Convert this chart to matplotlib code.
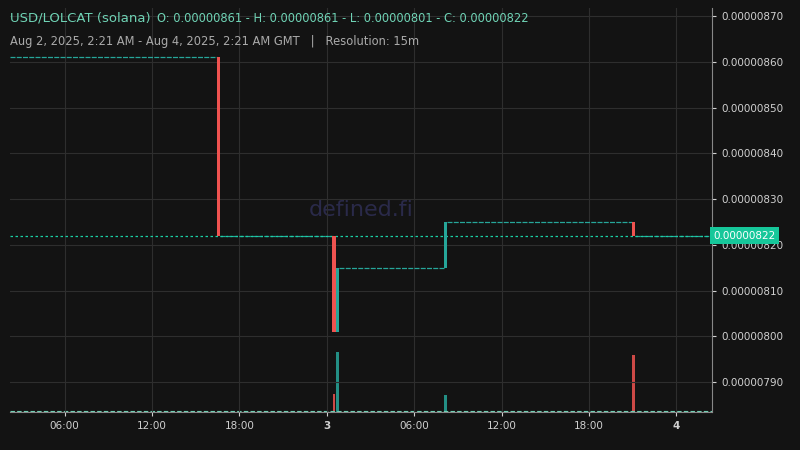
import matplotlib.pyplot as plt
import numpy as np

# hours since Aug 2, 2025 00:00 GMT
t_start, t_end = 2.25, 50.45
candle_t = [16.55, 24.5, 24.75, 32.15, 45.05]
candle_o = [0.00000861, 0.00000822, 0.00000801, 0.00000815, 0.00000825]
candle_c = [0.00000822, 0.00000801, 0.00000815, 0.00000825, 0.00000822]
volume = [2, 120, 400, 113, 380]
last_price = 0.00000822

bg = "#131313"
green = "#26a69a"
red = "#ef5350"
teal_txt = "#6fd3b5"

fig = plt.figure(figsize=(8, 4.5), dpi=100, facecolor=bg)
ax = fig.add_axes([10/800, 38/450, 702/800, 404/450], facecolor=bg)
vax = ax.twinx()
vax.set_ylim(0, 2700)
vax.axis("off")
ax.set_zorder(vax.get_zorder() + 1)
ax.patch.set_visible(False)
vax.set_facecolor(bg)

# flat segments between moves
prev_t, prev_p = t_start, candle_o[0]
for t, o, c in zip(candle_t, candle_o, candle_c):
    ax.hlines(prev_p, prev_t, t - 0.1, color=green, lw=0.9, ls=(0, (4, 1)))
    prev_t, prev_p = t + 0.1, c
ax.hlines(prev_p, prev_t, t_end, color=green, lw=0.9, ls=(0, (4, 1)))

for t, o, c, v in zip(candle_t, candle_o, candle_c, volume):
    col = green if c >= o else red
    ax.bar(t, abs(c - o), bottom=min(o, c), width=0.22, color=col, zorder=3)
    vax.bar(t, v, width=0.18, color=col, alpha=0.85)
vax.hlines(5, t_start, t_end, color=teal_txt, lw=0.8, ls=(0, (4, 2)))

ax.axhline(last_price, color="#1ad1a5", lw=0.9, ls=(0, (2, 2)))

ax.set_xlim(t_start, t_end)
ax.set_ylim(0.0000078345, 0.0000087175)
ax.set_xticks([6, 12, 18, 24, 30, 36, 42, 48])
ax.set_xticklabels(["06:00", "12:00", "18:00", "3", "06:00", "12:00", "18:00", "4"])
for lbl in ax.get_xticklabels():
    if lbl.get_text() in ("3", "4"):
        lbl.set_fontweight("bold")
yt = np.arange(79, 88) * 1e-7
ax.set_yticks(yt)
ax.set_yticklabels([f"{v:.8f}" for v in yt])
ax.yaxis.tick_right()
ax.tick_params(colors="#d0d0d0", labelsize=7.5, length=3)
ax.grid(color="#2e2e2e", lw=0.8)
for s in ax.spines.values():
    s.set_visible(False)
ax.spines["right"].set_visible(True)
ax.spines["right"].set_color("#888888")
ax.spines["bottom"].set_visible(True)
ax.spines["bottom"].set_color("#888888")

ax.text(1.002, last_price, f"{last_price:.8f}", transform=ax.get_yaxis_transform(),
        va="center", ha="left", fontsize=7.5, color="white",
        bbox=dict(boxstyle="square,pad=0.3", fc="#16c79a", ec="none"), zorder=10)

ax.text(0.5, 0.5, "defined.fi", transform=ax.transAxes, ha="center", va="center",
        fontsize=16, color="#2a2a4a", zorder=0)

fig.text(10/800, 1 - 18/450, "USD/LOLCAT (solana)", color=teal_txt, fontsize=9.5, va="center")
fig.text(157/800, 1 - 18/450,
         "O: 0.00000861 - H: 0.00000861 - L: 0.00000801 - C: 0.00000822",
         color=teal_txt, fontsize=8.3, va="center")
fig.text(10/800, 1 - 41/450, "Aug 2, 2025, 2:21 AM - Aug 4, 2025, 2:21 AM GMT   |   Resolution: 15m",
         color="#aaaaaa", fontsize=8.3, va="center")

fig.savefig("out.png", dpi=100, facecolor=bg)
